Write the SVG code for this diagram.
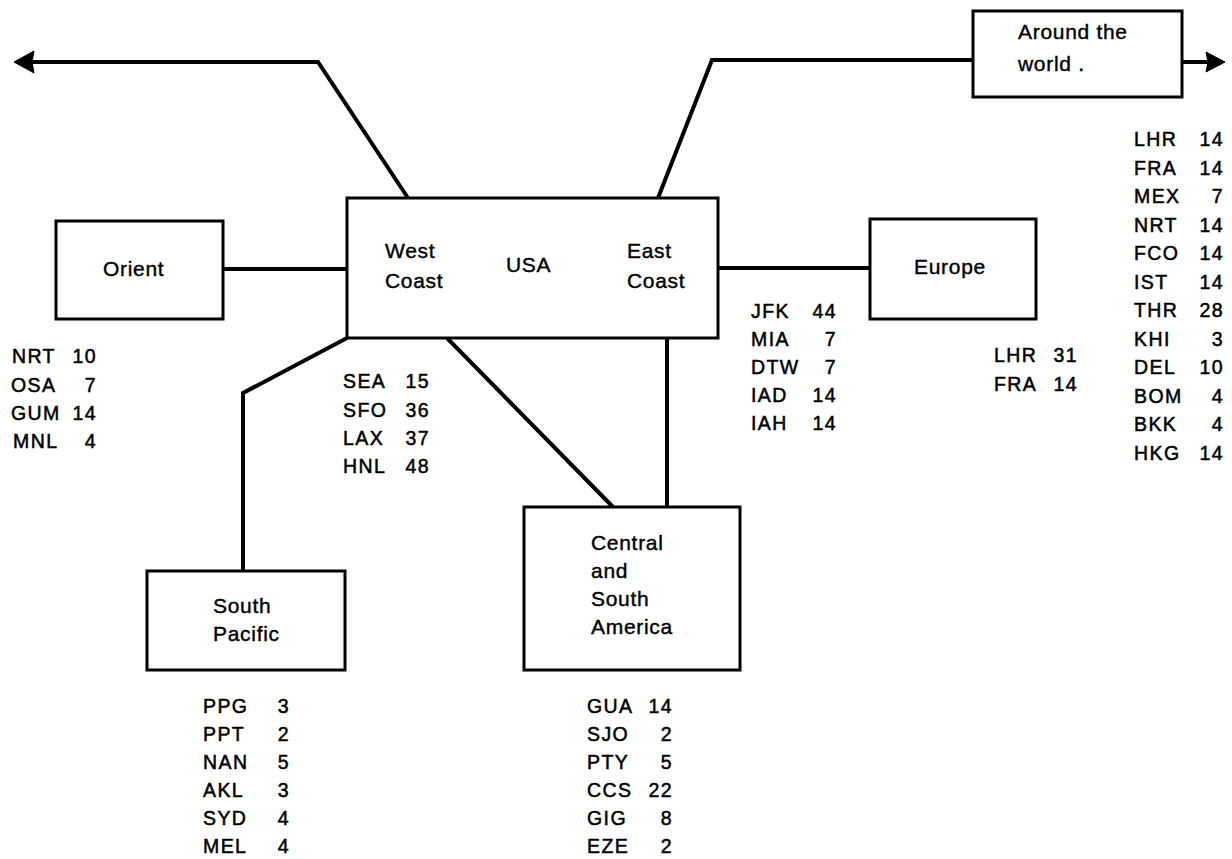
<svg xmlns="http://www.w3.org/2000/svg" width="1232" height="859" viewBox="0 0 1232 859">
  <defs>
    <style>
      .box { fill: #ffffff; stroke: #000000; stroke-width: 3; }
      .wire { fill: none; stroke: #000000; stroke-width: 4; stroke-linejoin: miter; }
      .tip { fill: #000000; stroke: #000000; stroke-width: 1; stroke-linejoin: round; }
      .lbl { font-family: "Liberation Sans", Arial, sans-serif; font-size: 21px; fill: #000000; letter-spacing: 0.7px; stroke: #000000; stroke-width: 0.4px; }
      .lst { font-family: "Liberation Sans", Arial, sans-serif; font-size: 19.5px; fill: #000000; letter-spacing: 1.4px; stroke: #000000; stroke-width: 0.5px; }
      .num { text-anchor: end; }
    </style>
  </defs>

  <!-- connectors -->
  <g id="connectors">
    <path class="wire" d="M408,198 L318,62 L30,62"/>
    <polygon class="tip" points="14,62 34,51 32,62 34,73"/>
    <path class="wire" d="M658,198 L712,60 L973,60"/>
    <path class="wire" d="M1182,62 L1210,62"/>
    <polygon class="tip" points="1225,62 1206,52 1208,62 1206,72"/>
    <path class="wire" d="M223,269 L347,269"/>
    <path class="wire" d="M718,268 L870,268"/>
    <path class="wire" d="M347,338 L243,393 L243,571"/>
    <path class="wire" d="M447,338 L613,507"/>
    <path class="wire" d="M667,338 L667,507"/>
  </g>

  <!-- USA -->
  <g id="usa">
    <rect class="box" x="347" y="198" width="371" height="140"/>
    <text class="lbl" x="385" y="258">West</text>
    <text class="lbl" x="385" y="288">Coast</text>
    <text class="lbl" x="506" y="272">USA</text>
    <text class="lbl" x="627" y="258">East</text>
    <text class="lbl" x="627" y="288">Coast</text>
  </g>

  <!-- Orient -->
  <g id="orient">
    <rect class="box" x="56" y="221" width="167" height="98"/>
    <text class="lbl" x="103" y="276">Orient</text>
  </g>

  <!-- Europe -->
  <g id="europe">
    <rect class="box" x="870" y="219" width="166" height="100"/>
    <text class="lbl" x="914" y="274">Europe</text>
  </g>

  <!-- South Pacific -->
  <g id="south-pacific">
    <rect class="box" x="147" y="571" width="198" height="99"/>
    <text class="lbl" x="213" y="613">South</text>
    <text class="lbl" x="213" y="641">Pacific</text>
  </g>

  <!-- Central and South America -->
  <g id="central-south-america">
    <rect class="box" x="524" y="507" width="216" height="163"/>
    <text class="lbl" x="591" y="550">Central</text>
    <text class="lbl" x="591" y="578">and</text>
    <text class="lbl" x="591" y="606">South</text>
    <text class="lbl" x="591" y="634">America</text>
  </g>

  <!-- Around the world -->
  <g id="around-the-world">
    <rect class="box" x="973" y="11" width="209" height="86"/>
    <text class="lbl" x="1018" y="39">Around the</text>
    <text class="lbl" x="1018" y="71">world .</text>
  </g>

  <!-- Orient airports -->
  <g id="list-orient" class="lst">
    <text x="12" y="363">NRT</text><text class="num" x="97" y="363">10</text>
    <text x="11" y="392">OSA</text><text class="num" x="97" y="392">7</text>
    <text x="11" y="420">GUM</text><text class="num" x="97" y="420">14</text>
    <text x="13" y="448">MNL</text><text class="num" x="97" y="448">4</text>
  </g>

  <!-- West Coast airports -->
  <g id="list-west" class="lst">
    <text x="343" y="388">SEA</text><text class="num" x="430" y="388">15</text>
    <text x="343" y="417">SFO</text><text class="num" x="430" y="417">36</text>
    <text x="343" y="445">LAX</text><text class="num" x="430" y="445">37</text>
    <text x="343" y="473">HNL</text><text class="num" x="430" y="473">48</text>
  </g>

  <!-- East Coast airports -->
  <g id="list-east" class="lst">
    <text x="751" y="318">JFK</text><text class="num" x="837" y="318">44</text>
    <text x="751" y="346">MIA</text><text class="num" x="837" y="346">7</text>
    <text x="751" y="374">DTW</text><text class="num" x="837" y="374">7</text>
    <text x="751" y="402">IAD</text><text class="num" x="837" y="402">14</text>
    <text x="751" y="430">IAH</text><text class="num" x="837" y="430">14</text>
  </g>

  <!-- Europe airports -->
  <g id="list-europe" class="lst">
    <text x="994" y="362">LHR</text><text class="num" x="1078" y="362">31</text>
    <text x="994" y="391">FRA</text><text class="num" x="1078" y="391">14</text>
  </g>

  <!-- Around the world stops -->
  <g id="list-world" class="lst">
    <text x="1134" y="146">LHR</text><text class="num" x="1224" y="146">14</text>
    <text x="1134" y="174.5">FRA</text><text class="num" x="1224" y="174.5">14</text>
    <text x="1134" y="203">MEX</text><text class="num" x="1224" y="203">7</text>
    <text x="1134" y="231.5">NRT</text><text class="num" x="1224" y="231.5">14</text>
    <text x="1134" y="260">FCO</text><text class="num" x="1224" y="260">14</text>
    <text x="1134" y="288.5">IST</text><text class="num" x="1224" y="288.5">14</text>
    <text x="1134" y="317">THR</text><text class="num" x="1224" y="317">28</text>
    <text x="1134" y="345.5">KHI</text><text class="num" x="1224" y="345.5">3</text>
    <text x="1134" y="374">DEL</text><text class="num" x="1224" y="374">10</text>
    <text x="1134" y="402.5">BOM</text><text class="num" x="1224" y="402.5">4</text>
    <text x="1134" y="431">BKK</text><text class="num" x="1224" y="431">4</text>
    <text x="1134" y="459.5">HKG</text><text class="num" x="1224" y="459.5">14</text>
  </g>

  <!-- South Pacific airports -->
  <g id="list-south-pacific" class="lst">
    <text x="203" y="713">PPG</text><text class="num" x="290" y="713">3</text>
    <text x="203" y="741">PPT</text><text class="num" x="290" y="741">2</text>
    <text x="203" y="769">NAN</text><text class="num" x="290" y="769">5</text>
    <text x="203" y="797">AKL</text><text class="num" x="290" y="797">3</text>
    <text x="203" y="825">SYD</text><text class="num" x="290" y="825">4</text>
    <text x="203" y="853">MEL</text><text class="num" x="290" y="853">4</text>
  </g>

  <!-- Central and South America airports -->
  <g id="list-central-south" class="lst">
    <text x="587" y="713">GUA</text><text class="num" x="673" y="713">14</text>
    <text x="587" y="741">SJO</text><text class="num" x="673" y="741">2</text>
    <text x="587" y="769">PTY</text><text class="num" x="673" y="769">5</text>
    <text x="587" y="797">CCS</text><text class="num" x="673" y="797">22</text>
    <text x="587" y="825">GIG</text><text class="num" x="673" y="825">8</text>
    <text x="587" y="853">EZE</text><text class="num" x="673" y="853">2</text>
  </g>
</svg>
